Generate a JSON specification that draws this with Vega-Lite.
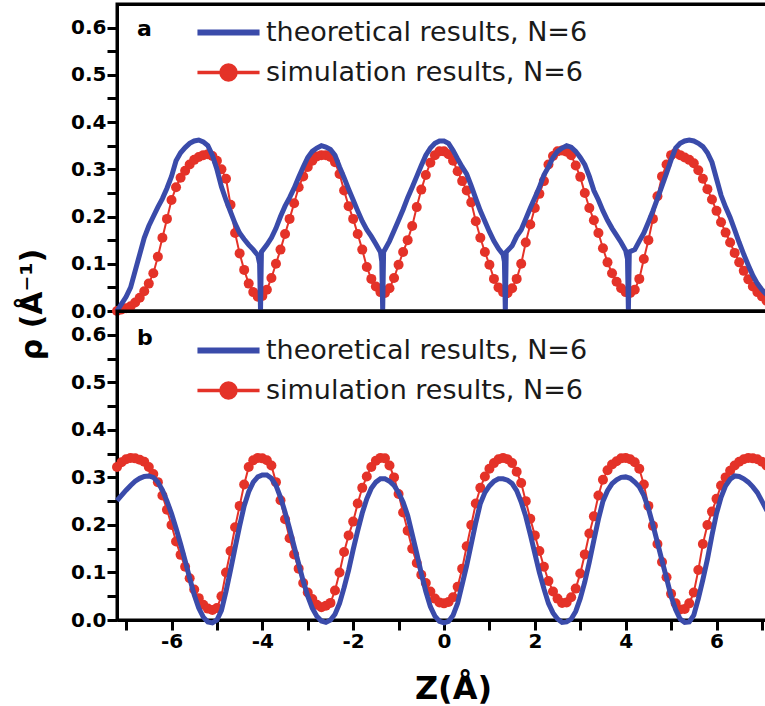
{
"$schema": "https://vega.github.io/schema/vega-lite/v6.json",
"padding": {"left": 15, "top": 0, "right": 0, "bottom": 0},
"bounds": "flush",
"spacing": 0,
"config": {
  "view": {"stroke": "black", "strokeWidth": 3},
  "font": "DejaVu Sans",
  "axis": {"domainColor": "black", "domainWidth": 3, "ticks": true, "tickColor": "black", "tickWidth": 3, "tickSize": 10, "grid": false, "labelFont": "DejaVu Sans", "labelFontWeight": "bold", "labelFontSize": 20, "labelColor": "black", "titleFont": "DejaVu Sans", "titleFontWeight": "bold", "titleColor": "black", "labelFlush": false, "labelOverlap": false}
},
"resolve": {"legend": {"color": "independent"}},
"datasets": {
"a_sim": [
{"x":-7.2,"y":0.000},{"x":-7.1,"y":0.003},{"x":-7.0,"y":0.006},{"x":-6.9,"y":0.010},{"x":-6.8,"y":0.018},{"x":-6.7,"y":0.028},{"x":-6.6,"y":0.042},{"x":-6.5,"y":0.058},{"x":-6.4,"y":0.080},{"x":-6.3,"y":0.115},{"x":-6.2,"y":0.155},{"x":-6.1,"y":0.195},{"x":-6.0,"y":0.235},{"x":-5.9,"y":0.262},{"x":-5.8,"y":0.282},{"x":-5.7,"y":0.297},{"x":-5.6,"y":0.310},{"x":-5.5,"y":0.320},{"x":-5.4,"y":0.326},{"x":-5.3,"y":0.330},{"x":-5.2,"y":0.332},{"x":-5.1,"y":0.328},{"x":-5.0,"y":0.318},{"x":-4.9,"y":0.300},{"x":-4.8,"y":0.280},{"x":-4.7,"y":0.225},{"x":-4.6,"y":0.165},{"x":-4.5,"y":0.122},{"x":-4.4,"y":0.087},{"x":-4.3,"y":0.058},{"x":-4.2,"y":0.040},{"x":-4.1,"y":0.030},{"x":-4.0,"y":0.032},{"x":-3.9,"y":0.045},{"x":-3.8,"y":0.070},{"x":-3.7,"y":0.100},{"x":-3.6,"y":0.130},{"x":-3.5,"y":0.163},{"x":-3.4,"y":0.195},{"x":-3.3,"y":0.228},{"x":-3.2,"y":0.262},{"x":-3.1,"y":0.285},{"x":-3.0,"y":0.305},{"x":-2.9,"y":0.318},{"x":-2.8,"y":0.327},{"x":-2.7,"y":0.330},{"x":-2.6,"y":0.330},{"x":-2.5,"y":0.326},{"x":-2.4,"y":0.315},{"x":-2.3,"y":0.290},{"x":-2.2,"y":0.255},{"x":-2.1,"y":0.222},{"x":-2.0,"y":0.195},{"x":-1.9,"y":0.163},{"x":-1.8,"y":0.130},{"x":-1.7,"y":0.093},{"x":-1.6,"y":0.068},{"x":-1.5,"y":0.052},{"x":-1.4,"y":0.040},{"x":-1.3,"y":0.038},{"x":-1.2,"y":0.048},{"x":-1.1,"y":0.070},{"x":-1.0,"y":0.098},{"x":-0.9,"y":0.125},{"x":-0.8,"y":0.150},{"x":-0.7,"y":0.180},{"x":-0.6,"y":0.220},{"x":-0.5,"y":0.257},{"x":-0.4,"y":0.288},{"x":-0.3,"y":0.314},{"x":-0.2,"y":0.330},{"x":-0.1,"y":0.338},{"x":0.0,"y":0.338},{"x":0.1,"y":0.332},{"x":0.2,"y":0.318},{"x":0.3,"y":0.296},{"x":0.4,"y":0.275},{"x":0.5,"y":0.255},{"x":0.6,"y":0.230},{"x":0.7,"y":0.190},{"x":0.8,"y":0.155},{"x":0.9,"y":0.125},{"x":1.0,"y":0.098},{"x":1.1,"y":0.068},{"x":1.2,"y":0.050},{"x":1.3,"y":0.040},{"x":1.4,"y":0.038},{"x":1.5,"y":0.048},{"x":1.6,"y":0.068},{"x":1.7,"y":0.100},{"x":1.8,"y":0.145},{"x":1.9,"y":0.183},{"x":2.0,"y":0.218},{"x":2.1,"y":0.248},{"x":2.2,"y":0.275},{"x":2.3,"y":0.310},{"x":2.4,"y":0.328},{"x":2.5,"y":0.338},{"x":2.6,"y":0.340},{"x":2.7,"y":0.337},{"x":2.8,"y":0.330},{"x":2.9,"y":0.308},{"x":3.0,"y":0.284},{"x":3.1,"y":0.250},{"x":3.2,"y":0.218},{"x":3.3,"y":0.192},{"x":3.4,"y":0.165},{"x":3.5,"y":0.133},{"x":3.6,"y":0.103},{"x":3.7,"y":0.080},{"x":3.8,"y":0.062},{"x":3.9,"y":0.048},{"x":4.0,"y":0.040},{"x":4.1,"y":0.038},{"x":4.2,"y":0.045},{"x":4.3,"y":0.068},{"x":4.4,"y":0.110},{"x":4.5,"y":0.150},{"x":4.6,"y":0.195},{"x":4.7,"y":0.243},{"x":4.8,"y":0.285},{"x":4.9,"y":0.310},{"x":5.0,"y":0.330},{"x":5.1,"y":0.335},{"x":5.2,"y":0.330},{"x":5.3,"y":0.325},{"x":5.4,"y":0.320},{"x":5.5,"y":0.313},{"x":5.6,"y":0.298},{"x":5.7,"y":0.280},{"x":5.8,"y":0.258},{"x":5.9,"y":0.236},{"x":6.0,"y":0.212},{"x":6.1,"y":0.188},{"x":6.2,"y":0.166},{"x":6.3,"y":0.145},{"x":6.4,"y":0.123},{"x":6.5,"y":0.103},{"x":6.6,"y":0.085},{"x":6.7,"y":0.067},{"x":6.8,"y":0.052},{"x":6.9,"y":0.040},{"x":7.0,"y":0.031},{"x":7.1,"y":0.022},{"x":7.2,"y":0.015}
],
"a_th": [
{"x":-7.2,"y":0.000},{"x":-7.1,"y":0.015},{"x":-7.0,"y":0.030},{"x":-6.9,"y":0.050},{"x":-6.8,"y":0.085},{"x":-6.7,"y":0.120},{"x":-6.6,"y":0.155},{"x":-6.5,"y":0.180},{"x":-6.4,"y":0.200},{"x":-6.3,"y":0.220},{"x":-6.2,"y":0.238},{"x":-6.1,"y":0.260},{"x":-6.0,"y":0.285},{"x":-5.9,"y":0.318},{"x":-5.8,"y":0.335},{"x":-5.7,"y":0.346},{"x":-5.6,"y":0.355},{"x":-5.5,"y":0.360},{"x":-5.4,"y":0.362},{"x":-5.3,"y":0.358},{"x":-5.2,"y":0.350},{"x":-5.1,"y":0.330},{"x":-5.0,"y":0.300},{"x":-4.9,"y":0.263},{"x":-4.8,"y":0.235},{"x":-4.7,"y":0.210},{"x":-4.6,"y":0.185},{"x":-4.5,"y":0.165},{"x":-4.4,"y":0.152},{"x":-4.3,"y":0.140},{"x":-4.2,"y":0.130},{"x":-4.1,"y":0.118},{"x":-4.06,"y":0.100},{"x":-4.04,"y":0.000},{"x":-4.02,"y":0.125},{"x":-3.9,"y":0.140},{"x":-3.8,"y":0.155},{"x":-3.7,"y":0.175},{"x":-3.6,"y":0.200},{"x":-3.5,"y":0.222},{"x":-3.4,"y":0.240},{"x":-3.3,"y":0.260},{"x":-3.2,"y":0.283},{"x":-3.1,"y":0.305},{"x":-3.0,"y":0.325},{"x":-2.9,"y":0.338},{"x":-2.8,"y":0.345},{"x":-2.7,"y":0.350},{"x":-2.6,"y":0.347},{"x":-2.5,"y":0.342},{"x":-2.4,"y":0.330},{"x":-2.3,"y":0.305},{"x":-2.2,"y":0.282},{"x":-2.1,"y":0.258},{"x":-2.0,"y":0.235},{"x":-1.9,"y":0.212},{"x":-1.8,"y":0.190},{"x":-1.7,"y":0.172},{"x":-1.6,"y":0.158},{"x":-1.5,"y":0.142},{"x":-1.4,"y":0.125},{"x":-1.37,"y":0.105},{"x":-1.35,"y":0.000},{"x":-1.33,"y":0.125},{"x":-1.2,"y":0.148},{"x":-1.1,"y":0.170},{"x":-1.0,"y":0.192},{"x":-0.9,"y":0.215},{"x":-0.8,"y":0.240},{"x":-0.7,"y":0.262},{"x":-0.6,"y":0.285},{"x":-0.5,"y":0.308},{"x":-0.4,"y":0.330},{"x":-0.3,"y":0.345},{"x":-0.2,"y":0.355},{"x":-0.1,"y":0.360},{"x":0.0,"y":0.360},{"x":0.1,"y":0.355},{"x":0.2,"y":0.340},{"x":0.3,"y":0.322},{"x":0.4,"y":0.305},{"x":0.5,"y":0.290},{"x":0.6,"y":0.265},{"x":0.7,"y":0.238},{"x":0.8,"y":0.212},{"x":0.9,"y":0.190},{"x":1.0,"y":0.168},{"x":1.1,"y":0.148},{"x":1.2,"y":0.132},{"x":1.3,"y":0.120},{"x":1.33,"y":0.105},{"x":1.35,"y":0.000},{"x":1.37,"y":0.125},{"x":1.5,"y":0.138},{"x":1.6,"y":0.158},{"x":1.7,"y":0.172},{"x":1.8,"y":0.195},{"x":1.9,"y":0.218},{"x":2.0,"y":0.240},{"x":2.1,"y":0.262},{"x":2.2,"y":0.288},{"x":2.3,"y":0.305},{"x":2.4,"y":0.325},{"x":2.5,"y":0.338},{"x":2.6,"y":0.345},{"x":2.7,"y":0.350},{"x":2.8,"y":0.347},{"x":2.9,"y":0.338},{"x":3.0,"y":0.325},{"x":3.1,"y":0.310},{"x":3.2,"y":0.285},{"x":3.3,"y":0.255},{"x":3.4,"y":0.235},{"x":3.5,"y":0.212},{"x":3.6,"y":0.192},{"x":3.7,"y":0.175},{"x":3.8,"y":0.160},{"x":3.9,"y":0.145},{"x":4.0,"y":0.128},{"x":4.04,"y":0.110},{"x":4.06,"y":0.000},{"x":4.08,"y":0.125},{"x":4.2,"y":0.130},{"x":4.3,"y":0.148},{"x":4.4,"y":0.165},{"x":4.5,"y":0.188},{"x":4.6,"y":0.212},{"x":4.7,"y":0.238},{"x":4.8,"y":0.265},{"x":4.9,"y":0.292},{"x":5.0,"y":0.320},{"x":5.1,"y":0.345},{"x":5.2,"y":0.355},{"x":5.3,"y":0.360},{"x":5.4,"y":0.362},{"x":5.5,"y":0.360},{"x":5.6,"y":0.355},{"x":5.7,"y":0.348},{"x":5.8,"y":0.335},{"x":5.9,"y":0.315},{"x":6.0,"y":0.280},{"x":6.1,"y":0.245},{"x":6.2,"y":0.220},{"x":6.3,"y":0.198},{"x":6.4,"y":0.172},{"x":6.5,"y":0.145},{"x":6.6,"y":0.120},{"x":6.7,"y":0.097},{"x":6.8,"y":0.075},{"x":6.9,"y":0.058},{"x":7.0,"y":0.045},{"x":7.1,"y":0.035},{"x":7.2,"y":0.028}
],
"b_sim": [
{"x":-7.2,"y":0.322},{"x":-7.1,"y":0.332},{"x":-7.0,"y":0.338},{"x":-6.9,"y":0.341},{"x":-6.8,"y":0.340},{"x":-6.7,"y":0.337},{"x":-6.6,"y":0.333},{"x":-6.5,"y":0.322},{"x":-6.4,"y":0.307},{"x":-6.3,"y":0.290},{"x":-6.2,"y":0.262},{"x":-6.1,"y":0.232},{"x":-6.0,"y":0.200},{"x":-5.9,"y":0.165},{"x":-5.8,"y":0.137},{"x":-5.7,"y":0.112},{"x":-5.6,"y":0.088},{"x":-5.5,"y":0.064},{"x":-5.4,"y":0.046},{"x":-5.3,"y":0.032},{"x":-5.2,"y":0.024},{"x":-5.1,"y":0.021},{"x":-5.0,"y":0.025},{"x":-4.9,"y":0.050},{"x":-4.8,"y":0.100},{"x":-4.7,"y":0.145},{"x":-4.6,"y":0.195},{"x":-4.5,"y":0.240},{"x":-4.4,"y":0.285},{"x":-4.3,"y":0.322},{"x":-4.2,"y":0.336},{"x":-4.1,"y":0.341},{"x":-4.0,"y":0.340},{"x":-3.9,"y":0.336},{"x":-3.8,"y":0.325},{"x":-3.7,"y":0.290},{"x":-3.6,"y":0.252},{"x":-3.5,"y":0.212},{"x":-3.4,"y":0.172},{"x":-3.3,"y":0.138},{"x":-3.2,"y":0.108},{"x":-3.1,"y":0.078},{"x":-3.0,"y":0.058},{"x":-2.9,"y":0.044},{"x":-2.8,"y":0.032},{"x":-2.7,"y":0.027},{"x":-2.6,"y":0.030},{"x":-2.5,"y":0.036},{"x":-2.4,"y":0.062},{"x":-2.3,"y":0.100},{"x":-2.2,"y":0.143},{"x":-2.1,"y":0.178},{"x":-2.0,"y":0.207},{"x":-1.9,"y":0.245},{"x":-1.8,"y":0.278},{"x":-1.7,"y":0.302},{"x":-1.6,"y":0.322},{"x":-1.5,"y":0.335},{"x":-1.4,"y":0.341},{"x":-1.3,"y":0.340},{"x":-1.2,"y":0.325},{"x":-1.1,"y":0.300},{"x":-1.0,"y":0.265},{"x":-0.9,"y":0.226},{"x":-0.8,"y":0.188},{"x":-0.7,"y":0.150},{"x":-0.6,"y":0.120},{"x":-0.5,"y":0.095},{"x":-0.4,"y":0.078},{"x":-0.3,"y":0.060},{"x":-0.2,"y":0.045},{"x":-0.1,"y":0.037},{"x":0.0,"y":0.035},{"x":0.1,"y":0.038},{"x":0.2,"y":0.048},{"x":0.3,"y":0.070},{"x":0.4,"y":0.108},{"x":0.5,"y":0.155},{"x":0.6,"y":0.200},{"x":0.7,"y":0.245},{"x":0.8,"y":0.278},{"x":0.9,"y":0.302},{"x":1.0,"y":0.318},{"x":1.1,"y":0.330},{"x":1.2,"y":0.338},{"x":1.3,"y":0.341},{"x":1.4,"y":0.338},{"x":1.5,"y":0.330},{"x":1.6,"y":0.312},{"x":1.7,"y":0.288},{"x":1.8,"y":0.250},{"x":1.9,"y":0.213},{"x":2.0,"y":0.178},{"x":2.1,"y":0.145},{"x":2.2,"y":0.112},{"x":2.3,"y":0.082},{"x":2.4,"y":0.060},{"x":2.5,"y":0.045},{"x":2.6,"y":0.036},{"x":2.7,"y":0.037},{"x":2.8,"y":0.048},{"x":2.9,"y":0.066},{"x":3.0,"y":0.098},{"x":3.1,"y":0.138},{"x":3.2,"y":0.182},{"x":3.3,"y":0.218},{"x":3.4,"y":0.262},{"x":3.5,"y":0.295},{"x":3.6,"y":0.315},{"x":3.7,"y":0.327},{"x":3.8,"y":0.334},{"x":3.9,"y":0.340},{"x":4.0,"y":0.341},{"x":4.1,"y":0.338},{"x":4.2,"y":0.332},{"x":4.3,"y":0.318},{"x":4.4,"y":0.285},{"x":4.5,"y":0.240},{"x":4.6,"y":0.198},{"x":4.7,"y":0.160},{"x":4.8,"y":0.122},{"x":4.9,"y":0.090},{"x":5.0,"y":0.055},{"x":5.1,"y":0.035},{"x":5.2,"y":0.022},{"x":5.3,"y":0.023},{"x":5.4,"y":0.035},{"x":5.5,"y":0.058},{"x":5.6,"y":0.105},{"x":5.7,"y":0.160},{"x":5.8,"y":0.200},{"x":5.9,"y":0.228},{"x":6.0,"y":0.255},{"x":6.1,"y":0.283},{"x":6.2,"y":0.300},{"x":6.3,"y":0.314},{"x":6.4,"y":0.325},{"x":6.5,"y":0.333},{"x":6.6,"y":0.338},{"x":6.7,"y":0.341},{"x":6.8,"y":0.340},{"x":6.9,"y":0.338},{"x":7.0,"y":0.333},{"x":7.1,"y":0.325},{"x":7.2,"y":0.315}
],
"b_th": [
{"x":-7.2,"y":0.251},{"x":-7.1,"y":0.262},{"x":-7.0,"y":0.273},{"x":-6.9,"y":0.283},{"x":-6.8,"y":0.292},{"x":-6.7,"y":0.298},{"x":-6.6,"y":0.302},{"x":-6.5,"y":0.303},{"x":-6.4,"y":0.300},{"x":-6.3,"y":0.290},{"x":-6.2,"y":0.273},{"x":-6.1,"y":0.250},{"x":-6.0,"y":0.224},{"x":-5.9,"y":0.193},{"x":-5.8,"y":0.160},{"x":-5.7,"y":0.125},{"x":-5.6,"y":0.088},{"x":-5.5,"y":0.053},{"x":-5.4,"y":0.025},{"x":-5.3,"y":0.006},{"x":-5.2,"y":-0.004},{"x":-5.1,"y":-0.006},{"x":-5.0,"y":0.000},{"x":-4.9,"y":0.020},{"x":-4.8,"y":0.060},{"x":-4.7,"y":0.105},{"x":-4.6,"y":0.152},{"x":-4.5,"y":0.198},{"x":-4.4,"y":0.240},{"x":-4.3,"y":0.270},{"x":-4.2,"y":0.290},{"x":-4.1,"y":0.301},{"x":-4.0,"y":0.305},{"x":-3.9,"y":0.305},{"x":-3.8,"y":0.298},{"x":-3.7,"y":0.283},{"x":-3.6,"y":0.258},{"x":-3.5,"y":0.227},{"x":-3.4,"y":0.192},{"x":-3.3,"y":0.155},{"x":-3.2,"y":0.118},{"x":-3.1,"y":0.082},{"x":-3.0,"y":0.050},{"x":-2.9,"y":0.025},{"x":-2.8,"y":0.008},{"x":-2.7,"y":-0.002},{"x":-2.6,"y":-0.005},{"x":-2.5,"y":0.000},{"x":-2.4,"y":0.012},{"x":-2.3,"y":0.035},{"x":-2.2,"y":0.068},{"x":-2.1,"y":0.105},{"x":-2.0,"y":0.148},{"x":-1.9,"y":0.188},{"x":-1.8,"y":0.225},{"x":-1.7,"y":0.255},{"x":-1.6,"y":0.277},{"x":-1.5,"y":0.290},{"x":-1.4,"y":0.297},{"x":-1.3,"y":0.297},{"x":-1.2,"y":0.292},{"x":-1.1,"y":0.283},{"x":-1.0,"y":0.268},{"x":-0.9,"y":0.248},{"x":-0.8,"y":0.220},{"x":-0.7,"y":0.180},{"x":-0.6,"y":0.140},{"x":-0.5,"y":0.098},{"x":-0.4,"y":0.060},{"x":-0.3,"y":0.028},{"x":-0.2,"y":0.008},{"x":-0.1,"y":-0.003},{"x":0.0,"y":-0.006},{"x":0.1,"y":-0.003},{"x":0.2,"y":0.010},{"x":0.3,"y":0.035},{"x":0.4,"y":0.075},{"x":0.5,"y":0.115},{"x":0.6,"y":0.160},{"x":0.7,"y":0.205},{"x":0.8,"y":0.245},{"x":0.9,"y":0.268},{"x":1.0,"y":0.282},{"x":1.1,"y":0.292},{"x":1.2,"y":0.297},{"x":1.3,"y":0.297},{"x":1.4,"y":0.294},{"x":1.5,"y":0.287},{"x":1.6,"y":0.272},{"x":1.7,"y":0.248},{"x":1.8,"y":0.218},{"x":1.9,"y":0.180},{"x":2.0,"y":0.140},{"x":2.1,"y":0.100},{"x":2.2,"y":0.066},{"x":2.3,"y":0.035},{"x":2.4,"y":0.015},{"x":2.5,"y":0.002},{"x":2.6,"y":-0.005},{"x":2.7,"y":-0.004},{"x":2.8,"y":0.002},{"x":2.9,"y":0.018},{"x":3.0,"y":0.045},{"x":3.1,"y":0.080},{"x":3.2,"y":0.122},{"x":3.3,"y":0.168},{"x":3.4,"y":0.212},{"x":3.5,"y":0.250},{"x":3.6,"y":0.272},{"x":3.7,"y":0.287},{"x":3.8,"y":0.295},{"x":3.9,"y":0.300},{"x":4.0,"y":0.301},{"x":4.1,"y":0.298},{"x":4.2,"y":0.290},{"x":4.3,"y":0.280},{"x":4.4,"y":0.262},{"x":4.5,"y":0.235},{"x":4.6,"y":0.200},{"x":4.7,"y":0.163},{"x":4.8,"y":0.125},{"x":4.9,"y":0.088},{"x":5.0,"y":0.050},{"x":5.1,"y":0.022},{"x":5.2,"y":0.002},{"x":5.3,"y":-0.005},{"x":5.4,"y":-0.004},{"x":5.5,"y":0.010},{"x":5.6,"y":0.045},{"x":5.7,"y":0.085},{"x":5.8,"y":0.128},{"x":5.9,"y":0.178},{"x":6.0,"y":0.224},{"x":6.1,"y":0.258},{"x":6.2,"y":0.282},{"x":6.3,"y":0.296},{"x":6.4,"y":0.303},{"x":6.5,"y":0.302},{"x":6.6,"y":0.297},{"x":6.7,"y":0.290},{"x":6.8,"y":0.280},{"x":6.9,"y":0.268},{"x":7.0,"y":0.250},{"x":7.1,"y":0.232},{"x":7.2,"y":0.215}
]
},
"vconcat": [
{
  "width": 654, "height": 307,
  "resolve": {"axis": {"x": "independent", "y": "independent"}},
  "layer": [
    {"data": {"name": "a_sim"}, "mark": {"type": "line", "color": "#e43228", "strokeWidth": 2},
     "encoding": {
       "x": {"field": "x", "type": "quantitative", "scale": {"domain": [-7.2, 7.2], "nice": false, "zero": false},
             "axis": {"orient": "top", "values": [-7,-6,-5,-4,-3,-2,-1,0,1,2,3,4,5,6,7], "labels": false, "title": null, "tickSize": 0.01,
                      "encode": {"ticks": {"update": {"y2": {"signal": "datum.value % 2 === 0 ? 10 : 5"}}}}}},
       "y": {"field": "y", "type": "quantitative", "scale": {"domain": [0, 0.65], "nice": false},
             "axis": {"orient": "right", "values": [0,0.05,0.1,0.15,0.2,0.25,0.3,0.35,0.4,0.45,0.5,0.55,0.6], "labels": false, "title": null, "tickSize": 0.01,
                      "encode": {"ticks": {"update": {"x2": {"signal": "abs(datum.value*10 - round(datum.value*10)) < 0.001 ? -10 : -5"}}}}}}}},
    {"data": {"name": "a_sim"}, "mark": {"type": "circle", "color": "#e43228", "size": 100, "opacity": 1},
     "encoding": {
       "x": {"field": "x", "type": "quantitative", "axis": null},
       "y": {"field": "y", "type": "quantitative", "axis": null}}},
    {"data": {"name": "a_th"}, "mark": {"type": "line", "strokeWidth": 5},
     "encoding": {
       "x": {"field": "x", "type": "quantitative",
             "axis": {"orient": "bottom", "values": [-7,-6,-5,-4,-3,-2,-1,0,1,2,3,4,5,6,7], "labels": false, "title": null, "tickSize": 0.01,
                      "encode": {"ticks": {"update": {"y2": {"signal": "datum.value % 2 === 0 ? -10 : -5"}}}}}},
       "y": {"field": "y", "type": "quantitative",
             "axis": {"orient": "left", "values": [0,0.05,0.1,0.15,0.2,0.25,0.3,0.35,0.4,0.45,0.5,0.55,0.6], "labelExpr": "abs(datum.value*10 - round(datum.value*10)) < 0.001 ? format(datum.value, '.1f') : ''", "labelPadding": 1,
                      "encode": {"ticks": {"update": {"x2": {"signal": "abs(datum.value*10 - round(datum.value*10)) < 0.001 ? 10 : 5"}}}},
                      "title": "ρ (Å⁻¹)", "titleFontSize": 30, "titleX": -76, "titleY": 300, "titleAlign": "center", "titleBaseline": "alphabetic", "titleAngle": -90}},
       "color": {"datum": "theoretical results, N=6", "type": "nominal",
                 "scale": {"domain": ["theoretical results, N=6", "simulation results, N=6"], "range": ["#3a4baa", "#e43228"]},
                 "legend": {"orient": "none", "legendX": 98, "legendY": 15, "title": null, "padding": 0, "symbolSize": 900, "labelFont": "DejaVu Sans", "labelFontSize": 27, "labelColor": "#1a1a1a", "labelLimit": 600, "labelOffset": 24, "rowPadding": 12,
                            "encode": {"symbols": {"update": {
                              "shape": {"signal": "datum.value === 'simulation results, N=6' ? 'M-2.07,0L2.07,0M0.5,0A0.5,0.5,0,1,1,-0.5,0A0.5,0.5,0,1,1,0.5,0Z' : 'M-2.07,0L2.07,0'"},
                              "fill": {"signal": "datum.value === 'simulation results, N=6' ? '#e43228' : 'transparent'"},
                              "stroke": {"signal": "datum.value === 'simulation results, N=6' ? '#e43228' : '#3a4baa'"},
                              "strokeWidth": {"signal": "datum.value === 'simulation results, N=6' ? 3.5 : 6"},
                              "opacity": {"value": 1}}}}}}}},
    {"data": {"values": [{}]}, "mark": {"type": "text", "font": "DejaVu Sans", "fontWeight": "bold", "fontSize": 22, "align": "left", "baseline": "alphabetic", "color": "black"},
     "encoding": {"x": {"datum": -6.76, "type": "quantitative", "axis": null}, "y": {"datum": 0.583, "type": "quantitative", "axis": null}, "text": {"value": "a"}}}
  ]
},
{
  "width": 654, "height": 309,
  "resolve": {"axis": {"x": "independent", "y": "independent"}},
  "layer": [
    {"data": {"name": "b_sim"}, "mark": {"type": "line", "color": "#e43228", "strokeWidth": 2},
     "encoding": {
       "x": {"field": "x", "type": "quantitative", "scale": {"domain": [-7.2, 7.2], "nice": false, "zero": false},
             "axis": {"orient": "top", "values": [-7,-6,-5,-4,-3,-2,-1,0,1,2,3,4,5,6,7], "labels": false, "title": null, "tickSize": 0.01,
                      "encode": {"ticks": {"update": {"y2": {"signal": "datum.value % 2 === 0 ? 10 : 5"}}}}}},
       "y": {"field": "y", "type": "quantitative", "scale": {"domain": [0, 0.65], "nice": false},
             "axis": {"orient": "right", "values": [0,0.05,0.1,0.15,0.2,0.25,0.3,0.35,0.4,0.45,0.5,0.55,0.6], "labels": false, "title": null, "tickSize": 0.01,
                      "encode": {"ticks": {"update": {"x2": {"signal": "abs(datum.value*10 - round(datum.value*10)) < 0.001 ? -10 : -5"}}}}}}}},
    {"data": {"name": "b_sim"}, "mark": {"type": "circle", "color": "#e43228", "size": 100, "opacity": 1},
     "encoding": {
       "x": {"field": "x", "type": "quantitative", "axis": null},
       "y": {"field": "y", "type": "quantitative", "axis": null}}},
    {"data": {"name": "b_th"}, "mark": {"type": "line", "strokeWidth": 5},
     "encoding": {
       "x": {"field": "x", "type": "quantitative",
             "axis": {"orient": "bottom", "values": [-7,-6,-5,-4,-3,-2,-1,0,1,2,3,4,5,6,7], "labelExpr": "datum.value % 2 === 0 ? (datum.value < 0 ? '-' + abs(datum.value) : '' + datum.value) : ''", "labelPadding": 1, "labelBaseline": "top",
                      "encode": {"ticks": {"update": {"y2": {"signal": "datum.value % 2 === 0 ? -10 : -5"}}}},
                      "title": "Z(Å)", "titleFontSize": 32, "titleX": 336, "titleY": 78, "titleAlign": "center", "titleBaseline": "alphabetic"}},
       "y": {"field": "y", "type": "quantitative",
             "axis": {"orient": "left", "values": [0,0.05,0.1,0.15,0.2,0.25,0.3,0.35,0.4,0.45,0.5,0.55,0.6], "labelExpr": "abs(datum.value*10 - round(datum.value*10)) < 0.001 ? format(datum.value, '.1f') : ''", "labelPadding": 1, "title": null,
                      "encode": {"ticks": {"update": {"x2": {"signal": "abs(datum.value*10 - round(datum.value*10)) < 0.001 ? 10 : 5"}}}}}},
       "color": {"datum": "theoretical results, N=6", "type": "nominal",
                 "scale": {"domain": ["theoretical results, N=6", "simulation results, N=6"], "range": ["#3a4baa", "#e43228"]},
                 "legend": {"orient": "none", "legendX": 98, "legendY": 26, "title": null, "padding": 0, "symbolSize": 900, "labelFont": "DejaVu Sans", "labelFontSize": 27, "labelColor": "#1a1a1a", "labelLimit": 600, "labelOffset": 24, "rowPadding": 12,
                            "encode": {"symbols": {"update": {
                              "shape": {"signal": "datum.value === 'simulation results, N=6' ? 'M-2.07,0L2.07,0M0.5,0A0.5,0.5,0,1,1,-0.5,0A0.5,0.5,0,1,1,0.5,0Z' : 'M-2.07,0L2.07,0'"},
                              "fill": {"signal": "datum.value === 'simulation results, N=6' ? '#e43228' : 'transparent'"},
                              "stroke": {"signal": "datum.value === 'simulation results, N=6' ? '#e43228' : '#3a4baa'"},
                              "strokeWidth": {"signal": "datum.value === 'simulation results, N=6' ? 3.5 : 6"},
                              "opacity": {"value": 1}}}}}}}},
    {"data": {"values": [{}]}, "mark": {"type": "text", "font": "DejaVu Sans", "fontWeight": "bold", "fontSize": 22, "align": "left", "baseline": "alphabetic", "color": "black"},
     "encoding": {"x": {"datum": -6.76, "type": "quantitative", "axis": null}, "y": {"datum": 0.579, "type": "quantitative", "axis": null}, "text": {"value": "b"}}}
  ]
}
]
}
